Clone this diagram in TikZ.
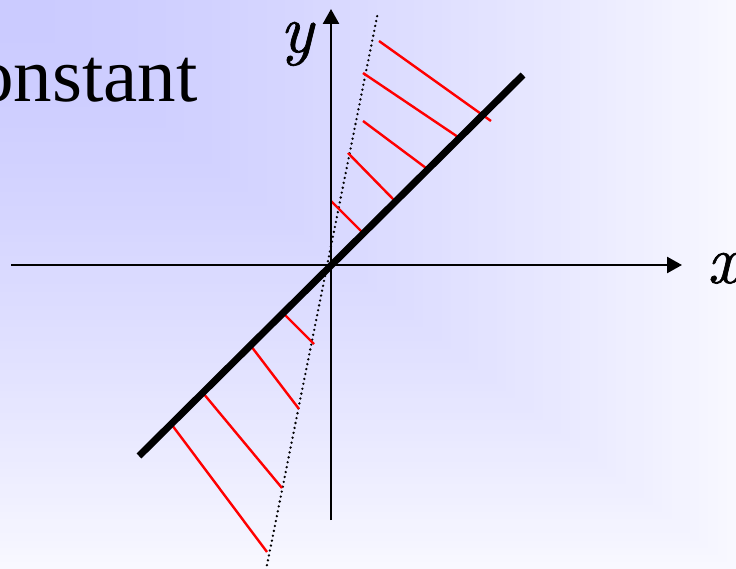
\documentclass[tikz,border=0pt]{standalone}
\usepackage{fontspec}
\newfontfamily\libserif{Liberation Serif}
\newfontface\lmitbold{lmroman10-italic.otf}[FakeBold=1.0]
\usetikzlibrary{arrows.meta}
\tikzset{
  axisline/.style={line width=2.5pt, -{Triangle[length=15pt,width=16pt]}},
  thickline/.style={line width=7pt, line cap=butt},
  dotline/.style={line width=2.6pt, line cap=round, dash pattern=on 0pt off 5pt},
  redseg/.style={red, line width=2.4pt},
  lbl/.style={inner sep=0pt, font=\lmitbold\fontsize{68}{74}\selectfont},
}
\begin{document}
\begin{tikzpicture}[x=1pt,y=-1pt]
\useasboundingbox (0,0) rectangle (736,569);
% background gradient (from corner)
\foreach \i in {80,79,...,1}{
  \pgfmathsetmacro\tval{\i/80}
  \pgfmathtruncatemacro\cval{203+45*\tval^1.5}
  \pgfmathsetmacro\wval{9.2*\i}
  \pgfmathsetmacro\hval{7.1125*\i}
  \definecolor{bgc}{RGB}{\cval,\cval,255}
  \fill[bgc] (0,0) rectangle (\wval,\hval);
}
% title fragment
\node[inner sep=0pt, anchor=base east, font=\libserif\fontsize{77}{90}\selectfont] (title) at (198,102) {onstant};
% coordinates
\coordinate (xs) at (11,265);
\coordinate (xe) at (682,265);
\coordinate (ys) at (331,520);
\coordinate (ye) at (331,9);
\coordinate (la) at (139,456);
\coordinate (lb) at (523,75);
\coordinate (da) at (265,575);
\coordinate (db) at (378,12);
% dotted line
\draw[dotline] (da) -- (db);
% red segments
\draw[redseg] (379,41) -- (491,121);
\draw[redseg] (363,73) -- (458,137);
\draw[redseg] (363,121) -- (426,168);
\draw[redseg] (348,153) -- (394,200);
\draw[redseg] (331,201) -- (362,232);
\draw[redseg] (283,313) -- (314,344);
\draw[redseg] (251,346) -- (299,409);
\draw[redseg] (203,393) -- (282,488);
\draw[redseg] (172,425) -- (267,552);
% axes
\draw[axisline] (xs) -- (xe);
\draw[axisline] (ys) -- (ye);
% thick line
\draw[thickline] (la) -- (lb);
% labels
\node[lbl, anchor=base west] (ylab) at (280,52) {y};
\node[lbl, anchor=base west] (xlab) at (707,283) {x};
\end{tikzpicture}
\end{document}
